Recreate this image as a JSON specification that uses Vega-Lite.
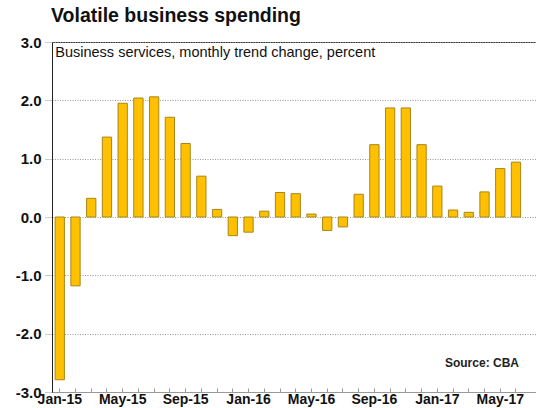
{
  "$schema": "https://vega.github.io/schema/vega-lite/v6.json",
  "width": 485,
  "height": 350,
  "autosize": "none",
  "padding": {"left": 52, "top": 42, "right": 0, "bottom": 16},
  "background": "white",
  "config": {
    "font": "Liberation Sans",
    "view": {"stroke": "#333333", "strokeWidth": 1}
  },
  "title": {
    "text": "Volatile business spending",
    "anchor": "start",
    "frame": "group",
    "fontSize": 19.5,
    "fontWeight": "bold",
    "color": "#111111",
    "offset": 9,
    "dx": -1,
    "font": "Liberation Sans"
  },
  "datasets": {
    "bars": [
      {"month": "Jan-15", "value": -2.79},
      {"month": "Feb-15", "value": -1.18},
      {"month": "Mar-15", "value": 0.32},
      {"month": "Apr-15", "value": 1.37},
      {"month": "May-15", "value": 1.95},
      {"month": "Jun-15", "value": 2.04},
      {"month": "Jul-15", "value": 2.06},
      {"month": "Aug-15", "value": 1.71},
      {"month": "Sep-15", "value": 1.26},
      {"month": "Oct-15", "value": 0.7},
      {"month": "Nov-15", "value": 0.13},
      {"month": "Dec-15", "value": -0.32},
      {"month": "Jan-16", "value": -0.26},
      {"month": "Feb-16", "value": 0.1},
      {"month": "Mar-16", "value": 0.42},
      {"month": "Apr-16", "value": 0.4},
      {"month": "May-16", "value": 0.05},
      {"month": "Jun-16", "value": -0.23},
      {"month": "Jul-16", "value": -0.17},
      {"month": "Aug-16", "value": 0.39},
      {"month": "Sep-16", "value": 1.24},
      {"month": "Oct-16", "value": 1.87},
      {"month": "Nov-16", "value": 1.87},
      {"month": "Dec-16", "value": 1.24},
      {"month": "Jan-17", "value": 0.53},
      {"month": "Feb-17", "value": 0.12},
      {"month": "Mar-17", "value": 0.08},
      {"month": "Apr-17", "value": 0.43},
      {"month": "May-17", "value": 0.83},
      {"month": "Jun-17", "value": 0.94}
    ],
    "notes": [
      {"month": "Jan-15", "value": 2.81, "label": "Business services, monthly trend change, percent", "kind": "sub"},
      {"month": "Jun-17", "value": -2.5, "label": "Source: CBA", "kind": "src"}
    ]
  },
  "encoding": {
    "x": {
      "field": "month",
      "type": "nominal",
      "sort": null,
      "scale": {
        "domain": ["Jan-15","Feb-15","Mar-15","Apr-15","May-15","Jun-15","Jul-15","Aug-15","Sep-15","Oct-15","Nov-15","Dec-15","Jan-16","Feb-16","Mar-16","Apr-16","May-16","Jun-16","Jul-16","Aug-16","Sep-16","Oct-16","Nov-16","Dec-16","Jan-17","Feb-17","Mar-17","Apr-17","May-17","Jun-17"],
        "paddingInner": 0.41,
        "paddingOuter": 0.62,
        "align": 0.16
      },
      "axis": {
        "title": null,
        "labelAngle": 0,
        "labelExpr": "indexof('JanMaySep', slice(datum.value, 0, 3)) >= 0 ? datum.value : ''",
        "labelFont": "Liberation Sans",
        "labelFontSize": 14,
        "labelFontWeight": "bold",
        "labelColor": "#111111",
        "labelPadding": 4,
        "labelOverlap": false,
        "domainColor": "#999999",
        "tickColor": "#999999",
        "tickSize": -4,
        "grid": false
      }
    },
    "y": {
      "field": "value",
      "type": "quantitative",
      "scale": {"domain": [-3, 3], "nice": false, "zero": false},
      "axis": {
        "title": null,
        "values": [-3, -2, -1, 0, 1, 2, 3],
        "labelExpr": "replace(format(datum.value, '.1f'), '\u2212', '-')",
        "labelFont": "Liberation Sans",
        "labelFontSize": 15,
        "labelFontWeight": "bold",
        "labelColor": "#111111",
        "labelPadding": 4,
        "tickSize": 7,
        "tickColor": "#999999",
        "tickDash": [1, 1],
        "domainColor": "#222222",
        "grid": true,
        "gridColor": "#999999",
        "gridDash": [1, 1.5],
        "gridWidth": 1
      }
    }
  },
  "layer": [
    {
      "data": {"name": "bars"},
      "mark": {"type": "bar", "fill": "#FFC000", "stroke": "#A8861A", "strokeWidth": 1},
      "encoding": {}
    },
    {
      "data": {"name": "notes"},
      "transform": [{"filter": "datum.kind == 'sub'"}],
      "mark": {"type": "text", "align": "left", "baseline": "middle", "dx": -4.5, "fontSize": 14.5, "font": "Liberation Sans", "color": "#111111"},
      "encoding": {"text": {"field": "label"}}
    },
    {
      "data": {"name": "notes"},
      "transform": [{"filter": "datum.kind == 'src'"}],
      "mark": {"type": "text", "align": "right", "baseline": "middle", "dx": 3, "fontSize": 12, "fontWeight": "bold", "font": "Liberation Sans", "color": "#222222"},
      "encoding": {"text": {"field": "label"}}
    }
  ]
}
